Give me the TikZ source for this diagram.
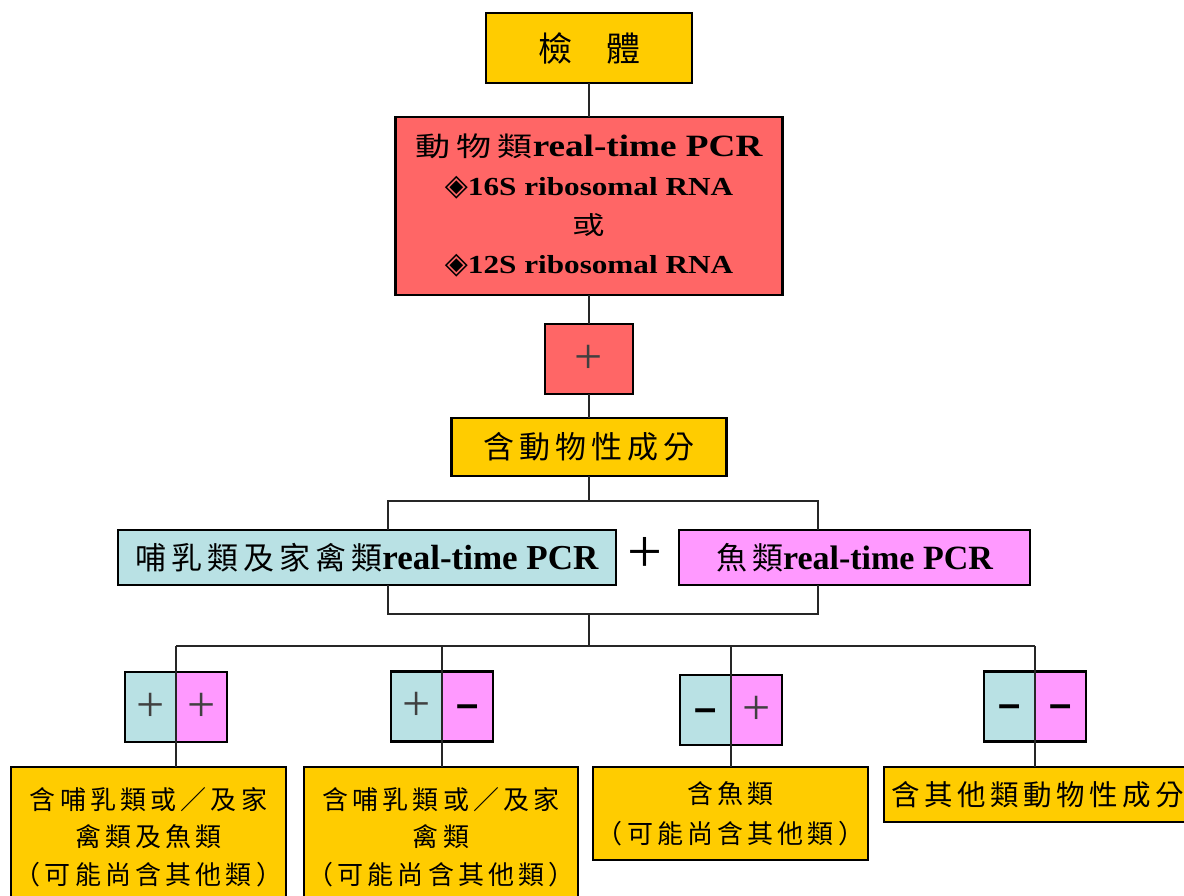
\documentclass[tikz,border=0pt]{standalone}
\usepackage{fontspec}
\setmainfont{Liberation Serif}
\newfontfamily\cjk{Noto Sans CJK TC}[LetterSpace=16]
\newfontfamily\cjktop{Noto Sans CJK TC}
\newfontfamily\cjkwide{Noto Sans CJK TC}[FakeStretch=1.3,LetterSpace=22]
\newfontfamily\latwide{Liberation Serif}[FakeStretch=1.2]
\newfontfamily\symfont{DejaVu Sans}
\newfontfamily\signfont{Liberation Sans}
\definecolor{specyel}{RGB}{255,204,0}
\definecolor{pcrred}{RGB}{255,102,102}
\definecolor{mamcyan}{RGB}{185,225,228}
\definecolor{fishpink}{RGB}{255,153,255}
\newcommand{\plusmark}{\raisebox{-14pt}[0pt][0pt]{\fontsize{50}{50}\selectfont\color{black!75}+}}
\newcommand{\minusmark}{\raisebox{-11pt}[0pt][0pt]{\fontsize{40}{40}\selectfont\signfont\bfseries –}}

\begin{document}
\begin{tikzpicture}[x=1pt,y=-1pt,
    box/.style={draw=black,line width=2.4pt,inner sep=0pt,outer sep=0pt,align=center},
    yelbox/.style={box,fill=specyel},
    redbox/.style={box,fill=pcrred},
    cyanbox/.style={box,fill=mamcyan},
    pinkbox/.style={box,fill=fishpink},
    halfbox/.style={minimum width=51,minimum height=70},
    wire/.style={line width=2pt,draw=black!85}]
    \useasboundingbox (0,0) rectangle (1184,896);

    \node[yelbox,minimum width=206,minimum height=70,font=\fontsize{34}{34}\selectfont\cjktop] (spec) at (589,48) {檢　體};
    \node[redbox,minimum width=387,minimum height=178,font=\fontsize{26}{39}\selectfont\latwide\bfseries] (pcr) at (589,206)
        {{\fontsize{27}{39}\selectfont\cjkwide\mdseries 動物類}{\fontsize{31}{39}\selectfont real-time PCR}\\
         {\fontsize{30}{39}\selectfont\symfont ◈}16S ribosomal RNA\\
         {\fontsize{25}{39}\selectfont\cjkwide\mdseries 或}\\
         {\fontsize{30}{39}\selectfont\symfont ◈}12S ribosomal RNA};
    \node[redbox,minimum width=88,minimum height=70] (redplus) at (589,359) {\plusmark};
    \node[yelbox,minimum width=275,minimum height=58,font=\fontsize{31}{31}\selectfont\cjk] (animal) at (589,447) {含動物性成分};

    \node[cyanbox,minimum width=498,minimum height=55] (mam) at (367,557.5)
        {{\fontsize{31}{31}\selectfont\cjk 哺乳類及家禽類}{\fontsize{35}{35}\selectfont\bfseries real-time PCR}};
    \node[font=\fontsize{62}{62}\selectfont] (andsign) at (645,555) {+};
    \node[pinkbox,minimum width=351,minimum height=55] (fish) at (854.5,557.5)
        {{\fontsize{31}{31}\selectfont\cjk 魚類}{\fontsize{34}{34}\selectfont\bfseries real-time PCR}};

    \foreach \i/\x/\y/\a/\b in {1/176/707/\plusmark/\plusmark, 2/442/706.5/\plusmark/\minusmark,
                                3/731/710/\minusmark/\plusmark, 4/1035/706.5/\minusmark/\minusmark} {
        \node[cyanbox,halfbox,anchor=east] (c\i) at (\x,\y) {\a};
        \node[pinkbox,halfbox,anchor=west] (p\i) at (\x,\y) {\b};
    }

    \node[yelbox,minimum width=275,minimum height=140,font=\fontsize{26}{37.5}\selectfont\cjk] (res1) at (148.5,837)
        {含哺乳類或／及家\\禽類及魚類\\（可能尚含其他類）};
    \node[yelbox,minimum width=274,minimum height=140,font=\fontsize{26}{37.5}\selectfont\cjk] (res2) at (441,837)
        {含哺乳類或／及家\\禽類\\（可能尚含其他類）};
    \node[yelbox,minimum width=275,minimum height=93,font=\fontsize{26}{40}\selectfont\cjk] (res3) at (730.5,813.5)
        {含魚類\\（可能尚含其他類）};
    \node[yelbox,minimum width=308,minimum height=55,font=\fontsize{28.5}{28.5}\selectfont\cjk] (res4) at (1038,794.5)
        {含其他類動物性成分};

    \draw[wire] (spec) -- (pcr);
    \draw[wire] (pcr) -- (redplus);
    \draw[wire] (redplus) -- (animal);
    \coordinate (fork) at (589,501);
    \coordinate (forkl) at (388,501);
    \coordinate (forkr) at (818,501);
    \draw[wire] (animal) -- (fork);
    \draw[wire] (forkl |- mam.north) -- (forkl) -- (forkr) -- (forkr |- fish.north);
    \coordinate (mergel) at (388,614);
    \coordinate (merger) at (818,614);
    \coordinate (merge) at (589,614);
    \coordinate (bus) at (589,646);
    \draw[wire] (mergel |- mam.south) -- (mergel) -- (merger) -- (merger |- fish.south);
    \draw[wire] (merge) -- (bus);
    \draw[wire] (c1.east |- bus) -- (c4.east |- bus);
    \foreach \i in {1,...,4}
        \draw[wire] (c\i.east |- bus) -- (c\i.east |- res\i.north);
\end{tikzpicture}
\end{document}
